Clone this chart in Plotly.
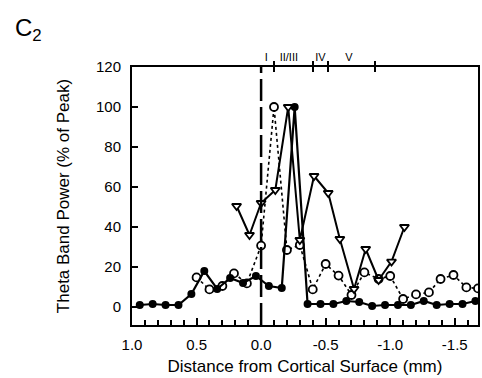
import plotly.graph_objects as go

# ---- data (distance in mm, power in % of peak) ----
filled_x = [0.94, 0.84, 0.74, 0.64, 0.54, 0.44, 0.34, 0.24, 0.14, 0.04, -0.06, -0.16, -0.26,
            -0.36, -0.46, -0.56, -0.66, -0.76, -0.86, -0.96, -1.06, -1.16, -1.26, -1.36,
            -1.46, -1.56, -1.66]
filled_y = [1, 1.5, 1, 1, 6.5, 18, 9, 14.5, 12, 15.5, 10.5, 9.5, 100,
            1.5, 1.5, 1.5, 3, 2.5, 0.5, 1, 1, 1, 3, 1,
            1.5, 1.5, 3]

open_x = [0.50, 0.40, 0.30, 0.21, 0.11, 0.00, -0.10, -0.20, -0.30, -0.40, -0.50, -0.60,
          -0.70, -0.80, -0.91, -1.00, -1.10, -1.20, -1.30, -1.39, -1.49, -1.59, -1.68]
open_y = [14.8, 8.8, 10.5, 16.8, 11.8, 30.7, 100, 28.5, 31, 8.8, 21.5, 15.7,
          6, 17.3, 14, 15.5, 4, 6.3, 7.3, 14, 16, 9.8, 9.3]

tri_x = [0.19, 0.09, 0.00, -0.11, -0.21, -0.30, -0.41, -0.52, -0.61, -0.72, -0.81, -0.91,
         -1.01, -1.11]
tri_y = [50.5, 36, 52, 58.5, 100, 33.5, 65.5, 57, 34, 9, 29, 13.5, 22.7, 40]

x_ticks = [1.0, 0.5, 0.0, -0.5, -1.0, -1.5]
x_tick_text = ["1.0", "0.5", "0.0", "-0.5", "-1.0", "-1.5"]
y_ticks = [0, 20, 40, 60, 80, 100, 120]

layer_bounds = [-0.10, -0.40, -0.52, -0.885]
layer_label_pos = [-0.04, -0.215, -0.46, -0.68]
layer_labels = ["I", "II/III", "IV", "V"]

SURFACE = 0.0
X_RANGE = [1.0, -1.68]
Y_RANGE = [-9, 120]

FONT = "Liberation Sans, Arial, sans-serif"

fig = go.Figure()

fig.add_trace(go.Scatter(
    x=open_x, y=open_y, mode="lines+markers",
    line=dict(color="black", width=1.6, dash="dot"),
    marker=dict(symbol="circle", size=8, color="white", line=dict(color="black", width=1.8)),
    showlegend=False))

fig.add_trace(go.Scatter(
    x=tri_x, y=tri_y, mode="lines+markers",
    line=dict(color="black", width=2),
    marker=dict(symbol="triangle-down", size=8, color="white", line=dict(color="black", width=1.8)),
    showlegend=False))

fig.add_trace(go.Scatter(
    x=filled_x, y=filled_y, mode="lines+markers",
    line=dict(color="black", width=2.2),
    marker=dict(symbol="circle", size=8, color="black"),
    showlegend=False))

# empty traces to activate the top overlay axes
for ax in ["x2", "x3", "x4"]:
    fig.add_trace(go.Scatter(x=[None], y=[None], xaxis=ax, yaxis="y",
                             showlegend=False, hoverinfo="skip"))

fig.add_shape(type="line", xref="x", yref="paper", x0=SURFACE, x1=SURFACE, y0=0, y1=1,
              line=dict(color="black", width=2.5, dash="22px,6px"))

fig.update_layout(
    width=482, height=378,
    margin=dict(l=132, r=2, t=67, b=53),
    paper_bgcolor="white", plot_bgcolor="white",
    font=dict(family=FONT, color="black", size=15),
    xaxis=dict(range=X_RANGE, tickvals=x_ticks, ticktext=x_tick_text,
               ticks="inside", ticklen=7, tickwidth=1.5, tickcolor="black",
               minor=dict(dtick=0.1, tick0=0, ticks="inside", ticklen=5, tickwidth=1.5,
                          tickcolor="black"),
               showline=True, linewidth=2, linecolor="black", mirror=True,
               showgrid=False, zeroline=False, ticklabelstandoff=5,
               tickfont=dict(size=15),
               title=dict(text="Distance from Cortical Surface (mm)", font=dict(size=17),
                          standoff=8)),
    yaxis=dict(range=Y_RANGE, tickvals=y_ticks, ticks="inside", ticklen=6, tickwidth=2,
               tickcolor="black", showline=True, linewidth=2, linecolor="black",
               mirror=True, showgrid=False, zeroline=False, ticklabelstandoff=6,
               tickfont=dict(size=15),
               title=dict(text="Theta Band Power (% of Peak)", font=dict(size=17),
                          standoff=22)),
    xaxis2=dict(overlaying="x", side="top", range=X_RANGE, tickvals=layer_bounds,
                ticks="outside", ticklen=5, tickwidth=1.5, tickcolor="black",
                showticklabels=False, showgrid=False, zeroline=False, showline=False),
    xaxis3=dict(overlaying="x", side="top", range=X_RANGE, tickvals=layer_bounds,
                ticks="inside", ticklen=5, tickwidth=1.5, tickcolor="black",
                showticklabels=False, showgrid=False, zeroline=False, showline=False),
    xaxis4=dict(overlaying="x", side="top", range=X_RANGE, tickvals=layer_label_pos,
                ticktext=layer_labels, ticks="", showgrid=False, zeroline=False,
                showline=False, tickfont=dict(size=11), ticklabelstandoff=3),
    annotations=[dict(text="C<sub>2</sub>", xref="paper", yref="paper",
                      x=-120 / 348, y=1 + 37 / 258, xanchor="left", yanchor="middle",
                      showarrow=False, font=dict(size=24))],
)

fig.write_html("out.html")
